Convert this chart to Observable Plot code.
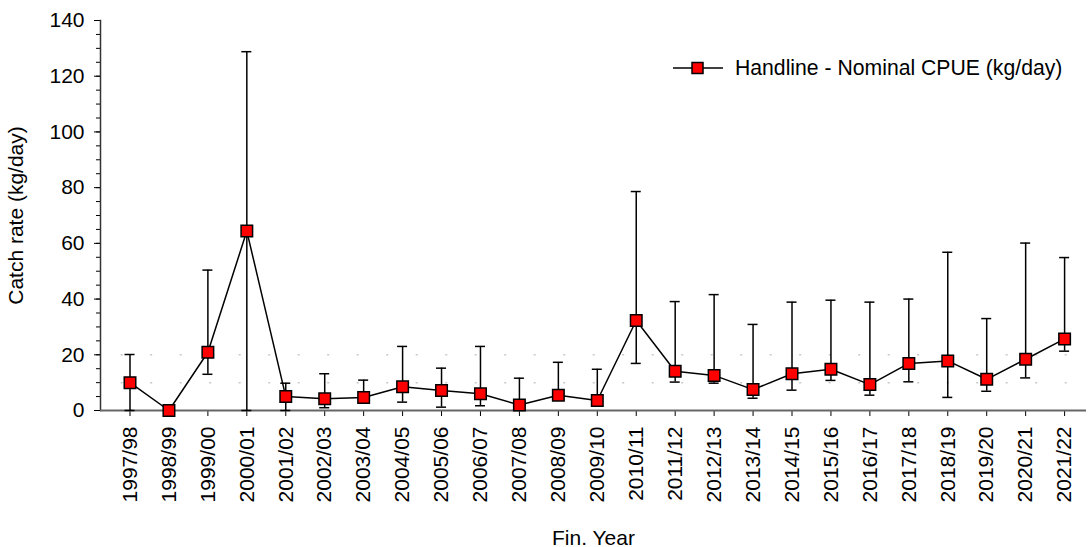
<!DOCTYPE html>
<html><head><meta charset="utf-8">
<script src="https://cdn.jsdelivr.net/npm/d3@7"></script>
<script src="https://cdn.jsdelivr.net/npm/@observablehq/plot@0.6"></script>
<style>
body{margin:0;background:#fff;font-family:"Liberation Sans",Arial,sans-serif;}
#wrap{position:relative;width:1088px;height:547px;}
#legend{position:absolute;left:673px;top:55px;display:flex;align-items:center;font-size:21.2px;color:#000;white-space:nowrap;line-height:26px;}
</style></head><body><div id="wrap"><div id="legend"><svg width="50" height="14"><line x1="0" x2="50" y1="7" y2="7" stroke="#000" stroke-width="1.5"/><rect x="19" y="1.5" width="11" height="11" fill="#ff0000" stroke="#000" stroke-width="1.5"/></svg><span style="margin-left:12px">Handline - Nominal CPUE (kg/day)</span></div></div>
<script>
const years = ["1997/98","1998/99","1999/00","2000/01","2001/02","2002/03","2003/04","2004/05","2005/06","2006/07","2007/08","2008/09","2009/10","2010/11","2011/12","2012/13","2013/14","2014/15","2015/16","2016/17","2017/18","2018/19","2019/20","2020/21","2021/22"];
const cpue  = [10.0, 0.0, 20.9, 64.4, 5.0, 4.2, 4.7, 8.5, 7.2, 6.0, 2.0, 5.5, 3.6, 32.3, 14.1, 12.6, 7.5, 13.2, 14.8, 9.3, 16.9, 17.8, 11.2, 18.4, 25.7];
const upper = [20.1, 0.0, 50.4, 128.8, 9.8, 13.2, 10.9, 23.0, 15.2, 23.0, 11.6, 17.3, 14.8, 78.6, 39.1, 41.6, 30.9, 38.9, 39.6, 38.9, 40.0, 56.8, 33.0, 60.1, 54.9];
const lower = [0.0, 0.0, 13.0, 0.0, 0.0, 1.0, 3.0, 3.0, 1.2, 1.7, 1.0, 4.0, 2.5, 16.9, 10.2, 9.8, 4.4, 7.3, 10.8, 5.5, 10.3, 4.7, 6.9, 11.7, 21.3];
const refLines = [10, 20];
const yMajorTicks = [0, 20, 40, 60, 80, 100, 120, 140];

const data = years.map((year, i) => ({year, cpue: cpue[i], upper: upper[i], lower: lower[i]}));

const plot = Plot.plot({
  width: 1088, height: 547,
  marginLeft: 100, marginRight: 2, marginTop: 20, marginBottom: 137,
  style: {fontFamily: "Liberation Sans, Arial, sans-serif", fontSize: "21px", color: "#000", background: "#fff"},
  x: {type: "band", domain: years, range: [124.5, 1069.1], paddingInner: 0.743, paddingOuter: 0, round: false},
  y: {domain: [0, 140]},
  marks: [
    Plot.ruleY(refLines, {stroke: "#c8c8c8", strokeWidth: 1.5, strokeDasharray: "2,27.5", strokeDashoffset: 8.8}),
    Plot.axisY({interval: 5, tickSize: 4, tickFormat: () => "", label: null}),
    Plot.axisY(yMajorTicks, {tickSize: 6, tickPadding: 10, label: "Catch rate (kg/day)", labelAnchor: "center", labelArrow: "none", labelOffset: 92}),
    Plot.axisX({tickSize: 6, tickPadding: 10, tickRotate: -90, label: "Fin. Year", labelAnchor: "center", labelArrow: "none", labelOffset: 134}),
    Plot.frame({anchor: "left", stroke: "#333", strokeWidth: 1.5}),
    Plot.ruleY([0], {stroke: "#666", strokeWidth: 2}),
    Plot.ruleX(data, {x: "year", y1: "lower", y2: "upper", stroke: "#000", strokeWidth: 1.5}),
    Plot.tickY(data, {x: "year", y: "upper", stroke: "#000", strokeWidth: 1.5}),
    Plot.tickY(data, {x: "year", y: "lower", stroke: "#000", strokeWidth: 1.5}),
    Plot.line(data, {x: "year", y: "cpue", stroke: "#000", strokeWidth: 1.5}),
    Plot.dot(data, {x: "year", y: "cpue", symbol: "square", r: 6.5, fill: "#ff0000", stroke: "#000", strokeWidth: 1.5})
  ]
});
document.getElementById("wrap").prepend(plot);
</script></body></html>
